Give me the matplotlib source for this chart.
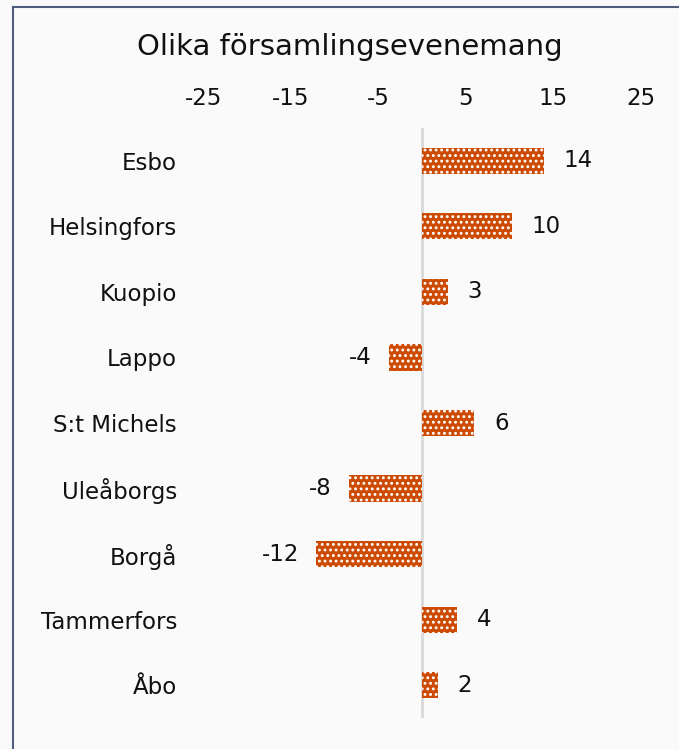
import matplotlib
matplotlib.use("Agg")
import matplotlib.pyplot as plt
from matplotlib.lines import Line2D

categories = ["Esbo", "Helsingfors", "Kuopio", "Lappo", "S:t Michels",
              "Uleåborgs", "Borgå", "Tammerfors", "Åbo"]
values = [14.0, 10.3, 3.0, -3.8, 6.0, -8.4, -12.1, 4.0, 1.8]
xticks = [-25, -15, -5, 5, 15, 25]
title = "Olika församlingsevenemang"

plt.rcParams['font.family'] = ['DejaVu Sans']
plt.rcParams['hatch.linewidth'] = 1.3
plt.rcParams['hatch.color'] = 'white'

W, H = 679, 749
fig = plt.figure(figsize=(W / 100, H / 100), dpi=100)
fig.patch.set_facecolor('#fafafa')

# axes placement in pixels
left, right, top, bottom = 203.5, 640.5, 128, 718
ax = fig.add_axes([left / W, 1 - bottom / H, (right - left) / W, (bottom - top) / H])
ax.set_facecolor('#fafafa')

ypos = list(range(len(categories)))
bars = ax.barh(ypos, values, height=0.4, color='#cc4a02', edgecolor='white',
               linewidth=0, hatch='...')

ax.set_xlim(-25, 25)
ax.set_ylim(len(categories) - 0.5, -0.5)
ax.set_xticks(xticks)
ax.set_xticklabels([str(t) for t in xticks])
ax.xaxis.tick_top()
ax.tick_params(axis='x', length=0, labelsize=16.5, pad=13, colors='#111111')
ax.set_yticks(ypos)
ax.set_yticklabels(categories)
ax.tick_params(axis='y', length=0, labelsize=16.5, pad=19, colors='#111111')
for s in ax.spines.values():
    s.set_visible(False)
ax.axvline(0, color='#d9d9d9', linewidth=2, zorder=0)

for y, v in zip(ypos, values):
    txt = f"{v:.0f}"
    if v >= 0:
        ax.annotate(txt, (v, y), xytext=(14, 0), textcoords='offset points',
                    ha='left', va='center', fontsize=16.5, color='#111111')
    else:
        ax.annotate(txt, (v, y), xytext=(-12, 0), textcoords='offset points',
                    ha='right', va='center', fontsize=16.5, color='#111111')

fig.text(350 / W, 1 - 47 / H, title, ha='center', va='center', fontsize=21,
         color='#111111')

# frame: top and left border lines
fig.add_artist(Line2D([13 / W, 13 / W], [0, 1 - 7 / H], transform=fig.transFigure,
                      color='#4f5d7a', linewidth=1.5))
fig.add_artist(Line2D([13 / W, 1], [1 - 7 / H, 1 - 7 / H], transform=fig.transFigure,
                      color='#4f5d7a', linewidth=1.5))

fig.savefig("out.png", dpi=100, facecolor=fig.get_facecolor())
